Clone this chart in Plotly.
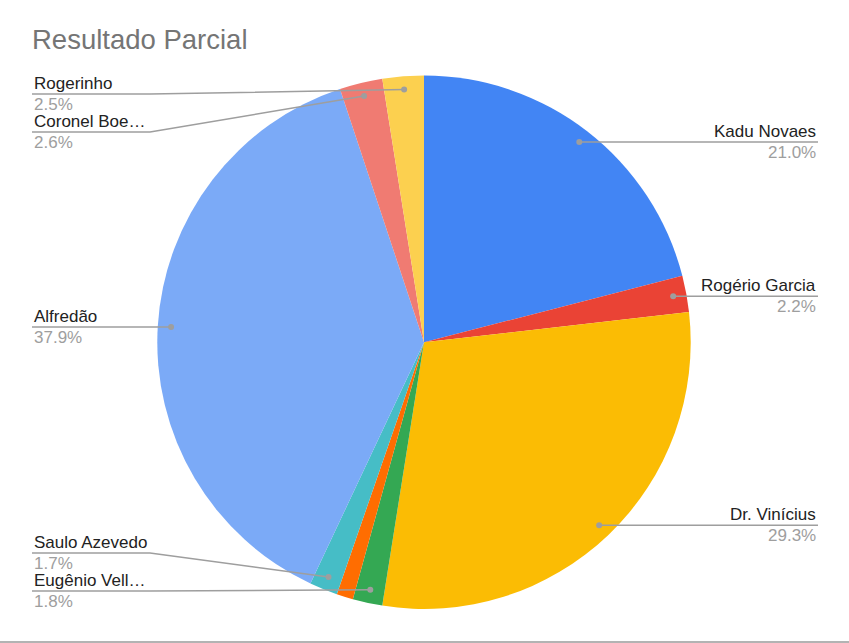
import math
import plotly.graph_objects as go

# Resultado parcial (percentuais)
candidatos = ["Kadu Novaes", "Rogério Garcia", "Dr. Vinícius", "Eugênio Vell…",
              "Outro", "Saulo Azevedo", "Alfredão", "Coronel Boe…", "Rogerinho"]
percentuais = [21.0, 2.2, 29.3, 1.8, 1.0, 1.7, 37.9, 2.6, 2.5]
cores = ["#4285F4", "#EA4335", "#FBBC04", "#34A853", "#FF6D01",
         "#46BDC6", "#7BAAF7", "#F07B72", "#FCD04F"]

W, H = 849, 643
# pie geometry in pixels
cx, cy, R = 424, 342.2, 266.7
font_txt = "Liberation Sans, Arial, sans-serif"

def px(x):
    return x / W

def py(y):
    return 1 - y / H

fig = go.Figure()
fig.add_trace(go.Pie(labels=candidatos, values=percentuais,
                     marker=dict(colors=cores, line=dict(width=0)),
                     sort=False, direction="clockwise", rotation=0,
                     textinfo="none", showlegend=False, hole=0,
                     domain=dict(x=[px(cx - R), px(cx + R)], y=[py(cy + R), py(cy - R)])))

# leader lines like the google sheets chart
total = sum(percentuais)
cum = 0
pontos = []
for nome, v in zip(candidatos, percentuais):
    frac = (cum + v / 2) / total
    cum += v
    if v < 1.5:
        continue
    ang = 2 * math.pi * frac
    dx = cx + 0.95 * R * math.sin(ang)
    dy = cy - 0.95 * R * math.cos(ang)
    lado = "r" if frac < 0.5 else "l"
    pontos.append(dict(nome=nome, v=v, dx=dx, dy=dy, lado=lado, ly=dy))

gap, ymin, ymax = 38, 94, 591
for lado in ["l", "r"]:
    grupo = sorted([p for p in pontos if p["lado"] == lado], key=lambda p: p["dy"])
    prev = None
    for p in grupo:
        p["ly"] = max(p["dy"], ymin) if prev is None else max(p["dy"], prev + gap)
        prev = p["ly"]
    nxt = None
    for p in reversed(grupo):
        p["ly"] = min(p["ly"], ymax) if nxt is None else min(p["ly"], nxt - gap)
        nxt = p["ly"]

cinza = "#9e9e9e"
for p in pontos:
    if p["lado"] == "l":
        x0, xk, anchor = 32, 150, "left"
    else:
        x0, xk, anchor = 818, 700, "right"
    fig.add_shape(type="path", xref="paper", yref="paper",
                  path=f"M {px(x0)},{py(p['ly'])} L {px(xk)},{py(p['ly'])} L {px(p['dx'])},{py(p['dy'])}",
                  line=dict(color=cinza, width=1.5))
    fig.add_shape(type="circle", xref="paper", yref="paper",
                  x0=px(p["dx"] - 3), x1=px(p["dx"] + 3), y0=py(p["dy"] + 3), y1=py(p["dy"] - 3),
                  fillcolor=cinza, line=dict(width=0))
    fig.add_annotation(x=px(x0), y=py(p["ly"] - 10.5), xref="paper", yref="paper",
                       text=p["nome"], showarrow=False, xanchor=anchor, yanchor="middle",
                       font=dict(family=font_txt, size=17, color="#222222"))
    fig.add_annotation(x=px(x0), y=py(p["ly"] + 10.5), xref="paper", yref="paper",
                       text=f"{p['v']:.1f}%", showarrow=False, xanchor=anchor, yanchor="middle",
                       font=dict(family=font_txt, size=17, color="#9e9e9e"))

# bottom border
fig.add_shape(type="line", xref="paper", yref="paper", x0=0, x1=1, y0=py(642), y1=py(642),
              line=dict(color="#9a9a9a", width=1.5))

fig.update_layout(
    width=W, height=H,
    margin=dict(l=0, r=0, t=0, b=0),
    paper_bgcolor="white",
    title=dict(text="Resultado Parcial", x=px(32), xanchor="left", xref="paper",
               y=py(39), yanchor="middle", yref="paper",
               font=dict(family=font_txt, size=27.5, color="#757575")),
)

# page has an 8px body margin by default, drop it so the chart fills the window
fig.write_html("out.html", config={"displayModeBar": False},
               post_script="document.body.style.margin='0';")
